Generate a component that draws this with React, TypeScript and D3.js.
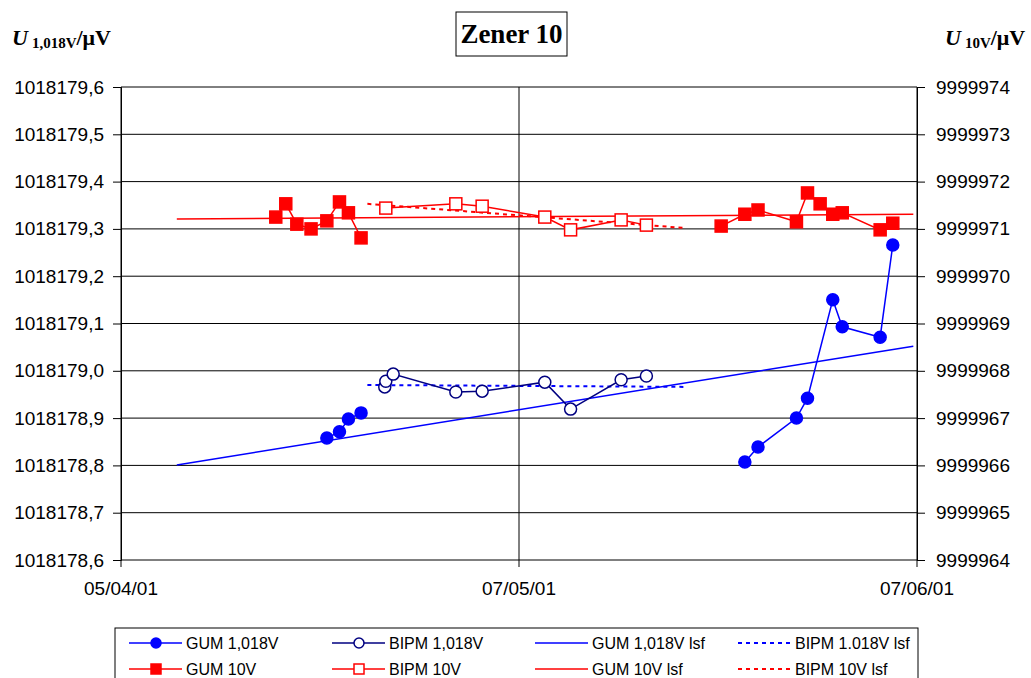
import React, { useEffect, useRef } from 'react';
import * as d3 from 'd3';

// axis limits
const xStart = '2001-04-05T00:00';
const xEnd = '2001-06-07T00:00';
const xTickLabels = ['05/04/01', '07/05/01', '07/06/01'];
const leftTicks = [1018178.6, 1018178.7, 1018178.8, 1018178.9, 1018179.0, 1018179.1, 1018179.2, 1018179.3, 1018179.4, 1018179.5, 1018179.6];
const rightTicks = [9999964, 9999965, 9999966, 9999967, 9999968, 9999969, 9999970, 9999971, 9999972, 9999973, 9999974];

// GUM measurements (null date = gap between the two campaigns)
const gumDates = [
  '2001-04-17T06:00', '2001-04-18T01:00', '2001-04-18T22:00', '2001-04-20T01:00',
  '2001-04-21T07:00', '2001-04-22T07:00', '2001-04-23T00:00', '2001-04-24T00:00',
  null,
  '2001-05-22T12:00', '2001-05-24T09:00', '2001-05-25T10:00', '2001-05-28T11:00',
  '2001-05-29T08:00', '2001-05-30T08:00', '2001-05-31T08:00', '2001-06-01T02:00',
  '2001-06-04T02:00', '2001-06-05T02:00',
];
const gum1018 = [
  null, null, null, null,
  1018178.858, 1018178.871, 1018178.898, 1018178.911,
  null,
  null, 1018178.807, 1018178.839, 1018178.900,
  1018178.942, null, 1018179.150, 1018179.093,
  1018179.071, 1018179.266,
];
const gum10 = [
  9999971.25, 9999971.53, 9999971.10, 9999971.00,
  9999971.17, 9999971.57, 9999971.34, 9999970.81,
  null,
  9999971.06, 9999971.31, 9999971.40, 9999971.15,
  9999971.76, 9999971.53, 9999971.31, 9999971.34,
  9999970.98, 9999971.12,
];

// BIPM measurements
const bipm1018Dates = [
  '2001-04-25T21:00', '2001-04-25T23:00', '2001-04-26T13:00', '2001-05-01T12:00',
  '2001-05-03T14:00', '2001-05-08T13:00', '2001-05-10T14:00', '2001-05-14T14:00', '2001-05-16T14:00',
];
const bipm1018 = [1018178.966, 1018178.978, 1018178.993, 1018178.955, 1018178.957, 1018178.976, 1018178.919, 1018178.981, 1018178.989];
const bipm10Dates = [
  '2001-04-25T23:00', '2001-05-01T12:00', '2001-05-03T14:00', '2001-05-08T13:00',
  '2001-05-10T14:00', '2001-05-14T14:00', '2001-05-16T14:00',
];
const bipm10 = [9999971.44, 9999971.53, 9999971.48, 9999971.25, 9999970.98, 9999971.19, 9999971.08];

// least squares fits (end points)
const gumLsfDates = ['2001-04-09T10:00', '2001-06-06T17:00'];
const gum1018Lsf = [1018178.801, 1018179.052];
const gum10Lsf = [9999971.21, 9999971.31];
const bipmLsfDates = ['2001-04-24T12:00', '2001-05-19T14:00'];
const bipm1018Lsf = [1018178.970, 1018178.966];
const bipm10Lsf = [9999971.53, 9999971.02];

const legendNames = [
  ['GUM 1,018V', 'BIPM 1,018V', 'GUM 1,018V lsf', 'BIPM 1.018V lsf'],
  ['GUM 10V', 'BIPM 10V', 'GUM 10V lsf', 'BIPM 10V lsf'],
];

const BLUE = '#0000ff';
const NAVY = '#000080';
const RED = '#ff0000';
const FONT = 'Arial, "Liberation Sans", sans-serif';
const SERIF = '"Times New Roman", "Liberation Serif", serif';

export default function App() {
  const ref = useRef<SVGSVGElement>(null);

  useEffect(() => {
    const svg = d3.select(ref.current);
    svg.selectAll('*').remove();

    const margin = { top: 87, right: 114, bottom: 118, left: 121 };
    const width = 1031 - margin.left - margin.right;
    const height = 678 - margin.top - margin.bottom;

    const parse = (s: string) => new Date(s);
    const t0 = parse(xStart), t1 = parse(xEnd);
    const x = d3.scaleTime().domain([t0, t1]).range([0, width]);
    const yL = d3.scaleLinear().domain([1018178.6, 1018179.6]).range([height, 0]);
    const yR = d3.scaleLinear().domain([9999964, 9999974]).range([height, 0]);

    const g = svg.append('g').attr('transform', `translate(${margin.left},${margin.top})`);

    // horizontal grid
    g.append('g')
      .selectAll('line')
      .data(leftTicks)
      .join('line')
      .attr('x1', 0).attr('x2', width)
      .attr('y1', d => yL(d)).attr('y2', d => yL(d))
      .attr('stroke', '#000').attr('stroke-width', 1);

    // x ticks at start, middle, end of the range
    const xTicks = [t0, new Date((+t0 + +t1) / 2), t1];
    g.append('g')
      .selectAll('line')
      .data(xTicks)
      .join('line')
      .attr('x1', d => x(d)).attr('x2', d => x(d))
      .attr('y1', 0).attr('y2', height + 7)
      .attr('stroke', '#000').attr('stroke-width', 1);

    g.append('g')
      .selectAll('text')
      .data(xTicks)
      .join('text')
      .attr('x', d => x(d)).attr('y', height + 35)
      .attr('text-anchor', 'middle')
      .attr('font-family', FONT).attr('font-size', 19)
      .text((d, i) => xTickLabels[i]);

    // left axis
    const fmtL = (v: number) => v.toFixed(1).replace('.', ',');
    const axL = g.append('g')
      .call(d3.axisLeft(yL).tickValues(leftTicks).tickSize(8).tickPadding(9).tickFormat(d => fmtL(+d)));
    axL.select('.domain').attr('stroke', '#000');
    axL.selectAll('text').attr('font-family', FONT).attr('font-size', 19).attr('fill', '#000');

    // right axis
    const axR = g.append('g')
      .attr('transform', `translate(${width},0)`)
      .call(d3.axisRight(yR).tickValues(rightTicks).tickSize(8).tickPadding(11).tickFormat(d3.format('d')));
    axR.select('.domain').attr('stroke', '#000');
    axR.selectAll('text').attr('font-family', FONT).attr('font-size', 19).attr('fill', '#000');

    type Pt = { t: Date; v: number | null };
    const zip = (dates: (string | null)[], vals: (number | null)[]): Pt[] =>
      dates.map((d, i) => ({ t: d ? parse(d) : t0, v: d ? vals[i] : null }));

    const lineL = d3.line<Pt>().defined(d => d.v != null).x(d => x(d.t)).y(d => yL(d.v as number));
    const lineR = d3.line<Pt>().defined(d => d.v != null).x(d => x(d.t)).y(d => yR(d.v as number));

    // least squares fits
    g.append('path').datum(zip(gumLsfDates, gum1018Lsf)).attr('d', lineL)
      .attr('fill', 'none').attr('stroke', BLUE).attr('stroke-width', 1.5);
    g.append('path').datum(zip(gumLsfDates, gum10Lsf)).attr('d', lineR)
      .attr('fill', 'none').attr('stroke', RED).attr('stroke-width', 1.5);
    g.append('path').datum(zip(bipmLsfDates, bipm1018Lsf)).attr('d', lineL)
      .attr('fill', 'none').attr('stroke', BLUE).attr('stroke-width', 2).attr('stroke-dasharray', '4,4');
    g.append('path').datum(zip(bipmLsfDates, bipm10Lsf)).attr('d', lineR)
      .attr('fill', 'none').attr('stroke', RED).attr('stroke-width', 2).attr('stroke-dasharray', '4,4');

    // measurement series
    // keep the campaign gap, but join existing points inside a campaign
    const gum1018Pts = zip(gumDates, gum1018).filter((d, i) => gumDates[i] == null || d.v != null);

    const drawSeries = (pts: Pt[], line: d3.Line<Pt>, ys: d3.ScaleLinear<number, number>, color: string, marker: string, fill: string) => {
      g.append('path').datum(pts).attr('d', line)
        .attr('fill', 'none').attr('stroke', color).attr('stroke-width', 1.5);
      const valid = pts.filter(d => d.v != null);
      if (marker === 'circle') {
        g.append('g').selectAll('circle').data(valid).join('circle')
          .attr('cx', d => x(d.t)).attr('cy', d => ys(d.v as number)).attr('r', 6)
          .attr('fill', fill).attr('stroke', color).attr('stroke-width', 1.5);
      } else {
        g.append('g').selectAll('rect').data(valid).join('rect')
          .attr('x', d => x(d.t) - 6).attr('y', d => ys(d.v as number) - 6)
          .attr('width', 12).attr('height', 12)
          .attr('fill', fill).attr('stroke', color).attr('stroke-width', 1.5);
      }
    };

    drawSeries(zip(gumDates, gum10), lineR, yR, RED, 'square', RED);
    drawSeries(zip(bipm10Dates, bipm10), lineR, yR, RED, 'square', '#fff');
    drawSeries(zip(bipm1018Dates, bipm1018), lineL, yL, NAVY, 'circle', '#fff');
    drawSeries(gum1018Pts, lineL, yL, BLUE, 'circle', BLUE);

    // title
    svg.append('rect').attr('x', 456).attr('y', 12).attr('width', 111).attr('height', 44)
      .attr('fill', '#fff').attr('stroke', '#000').attr('stroke-width', 1);
    svg.append('text').attr('x', 511.5).attr('y', 43).attr('text-anchor', 'middle')
      .attr('font-family', SERIF).attr('font-weight', 'bold').attr('font-size', 27)
      .text('Zener 10');

    // axis titles
    const axisTitle = (xPos: number, sub: string) => {
      const t = svg.append('text').attr('x', xPos).attr('y', 45)
        .attr('font-family', SERIF).attr('font-weight', 'bold').attr('font-size', 22);
      t.append('tspan').attr('font-style', 'italic').text('U');
      t.append('tspan').attr('font-size', 15).attr('dx', 4).attr('dy', 3).text(sub);
      t.append('tspan').attr('dy', -3).text('/μV');
    };
    axisTitle(12, '1,018V');
    axisTitle(945, '10V');

    // legend
    const lg = svg.append('g');
    lg.append('rect').attr('x', 115).attr('y', 628).attr('width', 803).attr('height', 80)
      .attr('fill', '#fff').attr('stroke', '#000').attr('stroke-width', 1);
    const colX = [129, 332, 535, 738];
    const rowY = [643, 669];
    legendNames.forEach((row, r) => {
      row.forEach((name, c) => {
        const x0 = colX[c], y0 = rowY[r];
        const color = r === 0 ? (c === 1 ? NAVY : BLUE) : RED;
        const l = lg.append('line').attr('x1', x0).attr('x2', x0 + 53).attr('y1', y0).attr('y2', y0)
          .attr('stroke', color).attr('stroke-width', c === 3 ? 2 : 1.5);
        if (c === 3) l.attr('stroke-dasharray', '4,4');
        const mfill = c === 0 ? color : '#fff';
        if (c < 2) {
          if (r === 0) {
            lg.append('circle').attr('cx', x0 + 27).attr('cy', y0).attr('r', 5)
              .attr('fill', mfill).attr('stroke', color).attr('stroke-width', 1.5);
          } else {
            lg.append('rect').attr('x', x0 + 22).attr('y', y0 - 5).attr('width', 10).attr('height', 10)
              .attr('fill', mfill).attr('stroke', color).attr('stroke-width', 1.5);
          }
        }
        lg.append('text').attr('x', x0 + 57).attr('y', y0 + 6)
          .attr('font-family', FONT).attr('font-size', 16).text(name);
      });
    });
  }, []);

  return (
    <svg ref={ref} width={1031} height={678}
      style={{ position: 'absolute', left: 0, top: 0, background: '#fff' }} />
  );
}
